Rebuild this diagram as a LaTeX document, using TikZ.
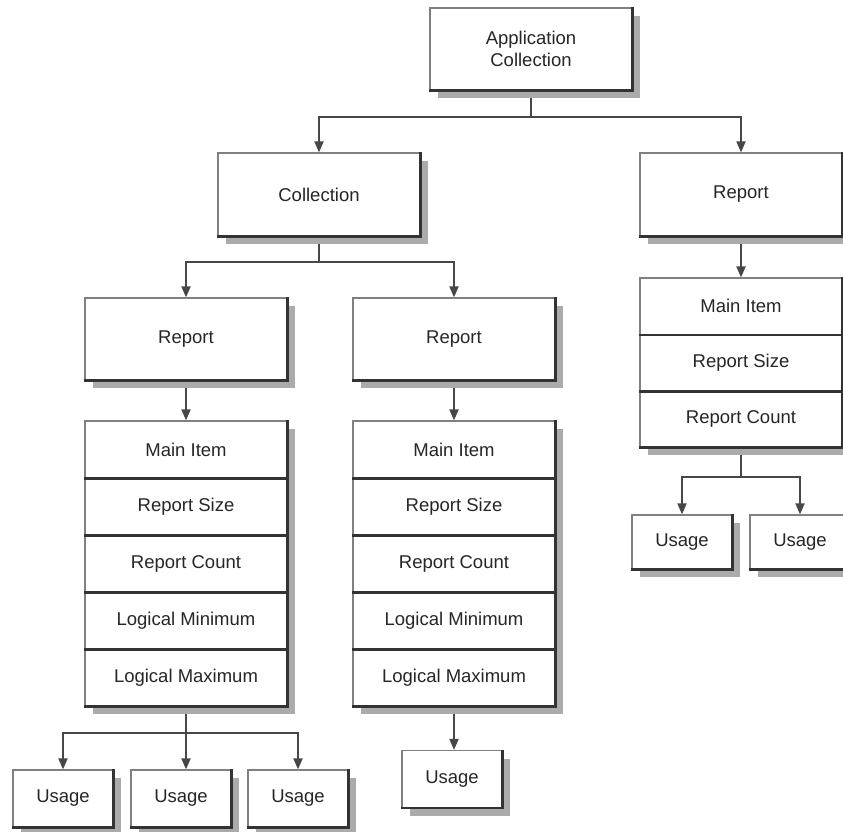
\documentclass[tikz,border=0pt]{standalone}
\usepackage{fontspec}
\setmainfont{Liberation Sans}
\usetikzlibrary{shadows,arrows.meta,backgrounds}
\tikzset{
  bx/.style={draw=black!50, line width=1.2pt, fill=white, text=black!85,
    font=\fontsize{18.5}{22}\selectfont, align=center, inner sep=0pt,
    minimum width=202pt,
    drop shadow={shadow xshift=8pt, shadow yshift=-8pt, fill=black!33, opacity=1}},
  ubx/.style={bx, minimum width=100pt},
  edgedark/.style={draw=black!80, line width=2.6pt},
  conn/.style={draw=black!72, line width=1.8pt},
  arr/.style={conn, -{Triangle[width=9pt,length=11pt]}},
}
\begin{document}
\begin{tikzpicture}[x=1pt,y=-1pt]
\useasboundingbox (0,0) rectangle (843,832);
% top level
\node[bx, minimum height=82pt] (app) at (531,49) {Application\\Collection};
\node[bx, minimum height=83pt] (coll) at (319,194.5) {Collection};
\node[bx, minimum height=83pt] (repR) at (741,194.5) {Report};
\node[bx, minimum height=82pt] (repL) at (186,339) {Report};
\node[bx, minimum height=82pt] (repM) at (454,339) {Report};
% left stack
\node[bx, minimum height=57pt] (ls1) at (186,449.5) {Main Item};
\node[bx, minimum height=57pt] (ls2) at (186,506.5) {Report Size};
\node[bx, minimum height=57pt] (ls3) at (186,563.5) {Report Count};
\node[bx, minimum height=57pt] (ls4) at (186,620.5) {Logical Minimum};
\node[bx, minimum height=57pt] (ls5) at (186,677.5) {Logical Maximum};
% middle stack
\node[bx, minimum height=57pt] (ms1) at (454,449.5) {Main Item};
\node[bx, minimum height=57pt] (ms2) at (454,506.5) {Report Size};
\node[bx, minimum height=57pt] (ms3) at (454,563.5) {Report Count};
\node[bx, minimum height=57pt] (ms4) at (454,620.5) {Logical Minimum};
\node[bx, minimum height=57pt] (ms5) at (454,677.5) {Logical Maximum};
% right stack
\node[bx, minimum height=56.3pt] (rs1) at (741,306.2) {Main Item};
\node[bx, minimum height=56.3pt] (rs2) at (741,362.5) {Report Size};
\node[bx, minimum height=56.3pt] (rs3) at (741,418.8) {Report Count};
% usages
\node[ubx, minimum height=57pt] (ul1) at (63,798.5) {Usage};
\node[ubx, minimum height=57pt] (ul2) at (181,798.5) {Usage};
\node[ubx, minimum height=57pt] (ul3) at (298,798.5) {Usage};
\node[ubx, minimum height=57pt] (um) at (452,779) {Usage};
\node[ubx, minimum height=54pt] (ur1) at (682,542) {Usage};
\node[ubx, minimum height=54pt] (ur2) at (800,542) {Usage};
% dark right/bottom edges
\foreach \n in {app,coll,repR,repL,repM,ls1,ls2,ls3,ls4,ls5,ms1,ms2,ms3,ms4,ms5,rs1,rs2,rs3,ul1,ul2,ul3,um,ur1,ur2}
  \draw[edgedark] (\n.north east) -- (\n.south east) -- (\n.south west);
% connectors
\coordinate (j1) at (531,117);
\coordinate (j2) at (319,262);
\coordinate (j3) at (186,733);
\coordinate (j4) at (741,477);
\begin{pgfonlayer}{background}
\draw[conn] (app.south) -- (j1);
\draw[arr] (j1) -| (coll.north);
\draw[arr] (j1) -| (repR.north);
\draw[conn] (coll.south) -- (j2);
\draw[arr] (j2) -| (repL.north);
\draw[arr] (j2) -| (repM.north);
\draw[arr] (repL.south) -- (ls1.north);
\draw[arr] (repM.south) -- (ms1.north);
\draw[arr] (repR.south) -- (rs1.north);
\draw[conn] (ls5.south) -- (j3);
\draw[arr] (j3) -| (ul1.north);
\draw[arr] (j3) -| (ul3.north);
\draw[arr] (j3) -- (j3 |- ul2.north);
\draw[arr] (ms5.south) -- (ms5.south |- um.north);
\draw[conn] (rs3.south) -- (j4);
\draw[arr] (j4) -| (ur1.north);
\draw[arr] (j4) -| (ur2.north);
\end{pgfonlayer}
\end{tikzpicture}
\end{document}
